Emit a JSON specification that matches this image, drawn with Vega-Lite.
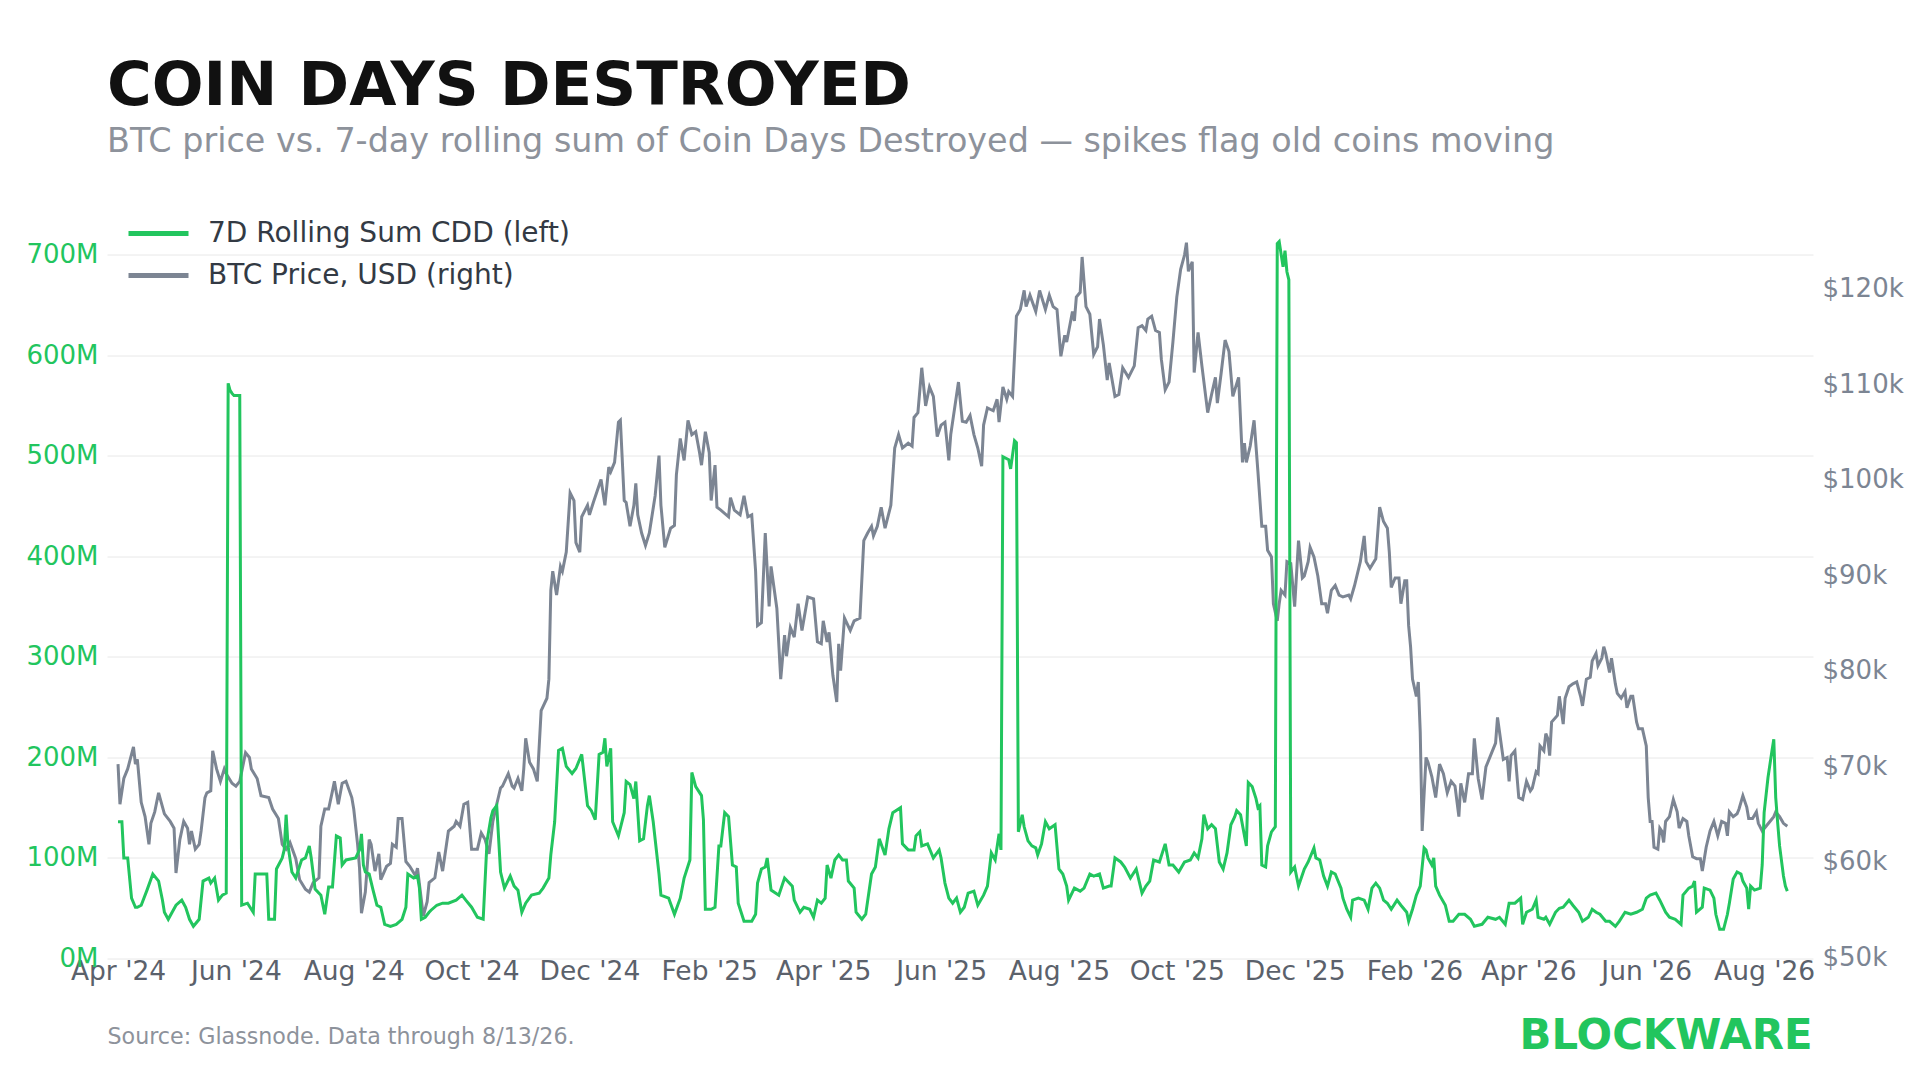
{
"$schema":"https://vega.github.io/schema/vega-lite/v6.json",
"width":1706,"height":734,
"autosize":{"type":"none"},
"padding":{"left":107,"top":224.5,"right":107,"bottom":121.5},
"background":"#ffffff",
"config":{"font":"DejaVu Sans","view":{"stroke":null}},
"title":{"text":"COIN DAYS DESTROYED","subtitle":"BTC price vs. 7-day rolling sum of Coin Days Destroyed — spikes flag old coins moving","anchor":"start","frame":"group","fontSize":61,"fontWeight":"bold","color":"#111111","subtitleFontSize":33.4,"subtitleColor":"#8d929b","subtitlePadding":8,"offset":42},
"datasets":{
"price":[
{"t":"2024-04-01","v":70.2},{"t":"2024-04-02","v":66.0},{"t":"2024-04-04","v":68.7},{"t":"2024-04-06","v":69.7},{"t":"2024-04-09","v":72.0},{"t":"2024-04-10","v":70.2},{"t":"2024-04-11","v":70.7},{"t":"2024-04-13","v":66.2},{"t":"2024-04-15","v":64.7},{"t":"2024-04-17","v":61.8},{"t":"2024-04-18","v":64.0},{"t":"2024-04-20","v":65.2},{"t":"2024-04-22","v":67.2},{"t":"2024-04-25","v":65.0},{"t":"2024-04-28","v":64.2},{"t":"2024-04-30","v":63.5},
{"t":"2024-05-01","v":58.8},{"t":"2024-05-03","v":62.3},{"t":"2024-05-05","v":64.2},{"t":"2024-05-07","v":63.5},{"t":"2024-05-08","v":61.8},{"t":"2024-05-09","v":63.2},{"t":"2024-05-11","v":61.3},{"t":"2024-05-13","v":61.8},{"t":"2024-05-14","v":63.2},{"t":"2024-05-16","v":66.7},{"t":"2024-05-17","v":67.2},{"t":"2024-05-19","v":67.4},{"t":"2024-05-20","v":71.6},{"t":"2024-05-22","v":69.7},{"t":"2024-05-24","v":68.4},{"t":"2024-05-26","v":69.7},{"t":"2024-05-27","v":69.2},{"t":"2024-05-30","v":68.2},
{"t":"2024-06-01","v":67.9},{"t":"2024-06-03","v":68.4},{"t":"2024-06-06","v":71.4},{"t":"2024-06-08","v":70.9},{"t":"2024-06-09","v":69.7},{"t":"2024-06-12","v":68.7},{"t":"2024-06-14","v":66.9},{"t":"2024-06-18","v":66.7},{"t":"2024-06-20","v":65.5},{"t":"2024-06-23","v":64.5},{"t":"2024-06-25","v":61.8},{"t":"2024-06-27","v":61.3},{"t":"2024-06-29","v":62.0},
{"t":"2024-07-02","v":60.3},{"t":"2024-07-04","v":58.1},{"t":"2024-07-07","v":57.1},{"t":"2024-07-09","v":56.8},{"t":"2024-07-11","v":57.8},{"t":"2024-07-14","v":58.3},{"t":"2024-07-15","v":63.7},{"t":"2024-07-17","v":65.5},{"t":"2024-07-19","v":65.5},{"t":"2024-07-21","v":67.4},{"t":"2024-07-22","v":68.4},{"t":"2024-07-24","v":66.0},{"t":"2024-07-26","v":68.2},{"t":"2024-07-28","v":68.4},{"t":"2024-07-31","v":66.7},
{"t":"2024-08-01","v":65.5},{"t":"2024-08-03","v":61.8},{"t":"2024-08-04","v":59.3},{"t":"2024-08-05","v":54.6},{"t":"2024-08-07","v":56.8},{"t":"2024-08-09","v":62.3},{"t":"2024-08-10","v":61.8},{"t":"2024-08-12","v":59.0},{"t":"2024-08-14","v":60.8},{"t":"2024-08-15","v":58.1},{"t":"2024-08-18","v":59.5},{"t":"2024-08-20","v":59.8},{"t":"2024-08-21","v":61.8},{"t":"2024-08-23","v":61.5},{"t":"2024-08-24","v":64.5},{"t":"2024-08-26","v":64.5},{"t":"2024-08-28","v":60.0},{"t":"2024-08-30","v":59.5},
{"t":"2024-09-02","v":58.5},{"t":"2024-09-03","v":59.3},{"t":"2024-09-06","v":54.3},{"t":"2024-09-08","v":55.8},{"t":"2024-09-09","v":57.8},{"t":"2024-09-12","v":58.3},{"t":"2024-09-14","v":61.0},{"t":"2024-09-16","v":59.0},{"t":"2024-09-19","v":63.2},{"t":"2024-09-22","v":63.7},{"t":"2024-09-23","v":64.2},{"t":"2024-09-25","v":63.7},{"t":"2024-09-27","v":66.0},{"t":"2024-09-29","v":66.2},
{"t":"2024-10-01","v":61.3},{"t":"2024-10-04","v":61.3},{"t":"2024-10-06","v":63.0},{"t":"2024-10-08","v":62.3},{"t":"2024-10-10","v":60.8},{"t":"2024-10-12","v":64.2},{"t":"2024-10-14","v":66.0},{"t":"2024-10-16","v":67.7},{"t":"2024-10-17","v":67.9},{"t":"2024-10-20","v":69.2},{"t":"2024-10-22","v":67.9},{"t":"2024-10-23","v":67.7},{"t":"2024-10-25","v":68.7},{"t":"2024-10-27","v":67.4},{"t":"2024-10-28","v":69.7},{"t":"2024-10-29","v":72.9},{"t":"2024-10-31","v":70.4},
{"t":"2024-11-02","v":69.7},{"t":"2024-11-04","v":68.4},{"t":"2024-11-06","v":75.8},{"t":"2024-11-09","v":77.1},{"t":"2024-11-10","v":79.1},{"t":"2024-11-11","v":88.4},{"t":"2024-11-12","v":90.4},{"t":"2024-11-14","v":87.9},{"t":"2024-11-16","v":90.9},{"t":"2024-11-17","v":90.4},{"t":"2024-11-19","v":92.4},{"t":"2024-11-21","v":98.6},{"t":"2024-11-23","v":97.8},{"t":"2024-11-24","v":93.4},{"t":"2024-11-26","v":92.4},{"t":"2024-11-27","v":96.1},{"t":"2024-11-30","v":97.3},
{"t":"2024-12-01","v":96.3},{"t":"2024-12-03","v":97.6},{"t":"2024-12-05","v":98.8},{"t":"2024-12-07","v":100.0},{"t":"2024-12-09","v":97.3},{"t":"2024-12-11","v":101.3},{"t":"2024-12-12","v":100.8},{"t":"2024-12-14","v":101.8},{"t":"2024-12-16","v":106.0},{"t":"2024-12-17","v":106.2},{"t":"2024-12-19","v":97.8},{"t":"2024-12-20","v":97.6},{"t":"2024-12-22","v":95.1},{"t":"2024-12-24","v":97.3},{"t":"2024-12-25","v":99.6},{"t":"2024-12-26","v":96.3},{"t":"2024-12-28","v":94.4},{"t":"2024-12-30","v":93.1},
{"t":"2025-01-01","v":94.4},{"t":"2025-01-04","v":98.3},{"t":"2025-01-06","v":102.5},{"t":"2025-01-07","v":97.3},{"t":"2025-01-09","v":92.9},{"t":"2025-01-12","v":94.9},{"t":"2025-01-14","v":95.2},{"t":"2025-01-15","v":100.5},{"t":"2025-01-17","v":104.3},{"t":"2025-01-19","v":102.0},{"t":"2025-01-21","v":106.2},{"t":"2025-01-23","v":104.7},{"t":"2025-01-25","v":105.0},{"t":"2025-01-27","v":102.8},{"t":"2025-01-28","v":101.5},{"t":"2025-01-30","v":105.0},
{"t":"2025-02-01","v":102.8},{"t":"2025-02-02","v":97.8},{"t":"2025-02-04","v":101.5},{"t":"2025-02-05","v":97.1},{"t":"2025-02-07","v":96.8},{"t":"2025-02-11","v":96.1},{"t":"2025-02-12","v":98.1},{"t":"2025-02-14","v":96.8},{"t":"2025-02-17","v":96.3},{"t":"2025-02-19","v":98.3},{"t":"2025-02-21","v":96.1},{"t":"2025-02-23","v":96.3},{"t":"2025-02-25","v":90.4},{"t":"2025-02-26","v":84.7},{"t":"2025-02-28","v":85.0},
{"t":"2025-03-02","v":94.4},{"t":"2025-03-04","v":86.7},{"t":"2025-03-05","v":90.9},{"t":"2025-03-08","v":86.5},{"t":"2025-03-10","v":79.1},{"t":"2025-03-12","v":83.7},{"t":"2025-03-13","v":81.5},{"t":"2025-03-15","v":84.5},{"t":"2025-03-17","v":83.5},{"t":"2025-03-19","v":87.0},{"t":"2025-03-21","v":84.2},{"t":"2025-03-24","v":87.7},{"t":"2025-03-27","v":87.5},{"t":"2025-03-29","v":83.0},{"t":"2025-03-31","v":82.8},
{"t":"2025-04-01","v":85.2},{"t":"2025-04-03","v":83.0},{"t":"2025-04-04","v":84.0},{"t":"2025-04-06","v":79.5},{"t":"2025-04-08","v":76.7},{"t":"2025-04-09","v":82.8},{"t":"2025-04-10","v":80.0},{"t":"2025-04-12","v":85.5},{"t":"2025-04-15","v":84.2},{"t":"2025-04-17","v":85.2},{"t":"2025-04-20","v":85.5},{"t":"2025-04-22","v":93.6},{"t":"2025-04-24","v":94.4},{"t":"2025-04-26","v":95.1},{"t":"2025-04-27","v":94.1},{"t":"2025-04-29","v":95.1},
{"t":"2025-05-01","v":97.1},{"t":"2025-05-03","v":94.9},{"t":"2025-05-06","v":97.3},{"t":"2025-05-08","v":103.3},{"t":"2025-05-10","v":104.7},{"t":"2025-05-12","v":103.3},{"t":"2025-05-15","v":103.8},{"t":"2025-05-17","v":103.5},{"t":"2025-05-18","v":106.5},{"t":"2025-05-20","v":107.0},{"t":"2025-05-22","v":111.7},{"t":"2025-05-24","v":107.7},{"t":"2025-05-26","v":109.7},{"t":"2025-05-28","v":108.7},{"t":"2025-05-30","v":104.5},
{"t":"2025-06-01","v":105.7},{"t":"2025-06-03","v":106.0},{"t":"2025-06-05","v":102.0},{"t":"2025-06-06","v":104.7},{"t":"2025-06-10","v":110.2},{"t":"2025-06-12","v":106.1},{"t":"2025-06-14","v":106.0},{"t":"2025-06-16","v":106.7},{"t":"2025-06-18","v":104.7},{"t":"2025-06-20","v":103.3},{"t":"2025-06-22","v":101.4},{"t":"2025-06-23","v":105.7},{"t":"2025-06-25","v":107.5},{"t":"2025-06-28","v":107.2},{"t":"2025-06-30","v":108.4},
{"t":"2025-07-01","v":106.0},{"t":"2025-07-03","v":109.7},{"t":"2025-07-05","v":108.4},{"t":"2025-07-06","v":109.2},{"t":"2025-07-08","v":108.7},{"t":"2025-07-10","v":117.1},{"t":"2025-07-12","v":117.8},{"t":"2025-07-14","v":119.8},{"t":"2025-07-15","v":118.1},{"t":"2025-07-17","v":119.3},{"t":"2025-07-20","v":117.6},{"t":"2025-07-22","v":119.8},{"t":"2025-07-25","v":117.8},{"t":"2025-07-27","v":119.3},{"t":"2025-07-29","v":118.1},{"t":"2025-07-31","v":117.8},
{"t":"2025-08-02","v":112.9},{"t":"2025-08-04","v":115.1},{"t":"2025-08-05","v":114.4},{"t":"2025-08-08","v":117.6},{"t":"2025-08-09","v":116.6},{"t":"2025-08-10","v":119.1},{"t":"2025-08-12","v":119.6},{"t":"2025-08-13","v":123.3},{"t":"2025-08-15","v":118.1},{"t":"2025-08-17","v":117.3},{"t":"2025-08-19","v":113.1},{"t":"2025-08-21","v":113.9},{"t":"2025-08-22","v":116.8},{"t":"2025-08-24","v":114.1},{"t":"2025-08-26","v":110.4},{"t":"2025-08-27","v":112.2},{"t":"2025-08-30","v":108.7},
{"t":"2025-09-01","v":108.9},{"t":"2025-09-03","v":111.7},{"t":"2025-09-06","v":110.7},{"t":"2025-09-09","v":111.9},{"t":"2025-09-11","v":115.9},{"t":"2025-09-13","v":116.1},{"t":"2025-09-15","v":115.6},{"t":"2025-09-16","v":116.8},{"t":"2025-09-18","v":117.1},{"t":"2025-09-20","v":115.6},{"t":"2025-09-22","v":115.4},{"t":"2025-09-23","v":112.6},{"t":"2025-09-25","v":109.4},{"t":"2025-09-27","v":110.2},{"t":"2025-09-29","v":114.4},
{"t":"2025-10-01","v":119.1},{"t":"2025-10-03","v":122.0},{"t":"2025-10-05","v":123.5},{"t":"2025-10-06","v":124.8},{"t":"2025-10-07","v":121.8},{"t":"2025-10-09","v":122.8},{"t":"2025-10-10","v":111.2},{"t":"2025-10-12","v":115.4},{"t":"2025-10-14","v":111.9},{"t":"2025-10-17","v":107.0},{"t":"2025-10-19","v":108.9},{"t":"2025-10-21","v":110.7},{"t":"2025-10-22","v":108.0},{"t":"2025-10-24","v":111.2},{"t":"2025-10-26","v":114.6},{"t":"2025-10-28","v":113.4},{"t":"2025-10-30","v":108.7},
{"t":"2025-11-02","v":110.7},{"t":"2025-11-04","v":101.8},{"t":"2025-11-05","v":103.8},{"t":"2025-11-06","v":101.8},{"t":"2025-11-08","v":103.5},{"t":"2025-11-10","v":106.2},{"t":"2025-11-12","v":100.8},{"t":"2025-11-14","v":95.1},{"t":"2025-11-16","v":95.1},{"t":"2025-11-17","v":92.6},{"t":"2025-11-19","v":91.9},{"t":"2025-11-20","v":87.0},{"t":"2025-11-22","v":85.2},{"t":"2025-11-23","v":87.0},{"t":"2025-11-24","v":88.4},{"t":"2025-11-26","v":87.9},{"t":"2025-11-27","v":91.4},{"t":"2025-11-29","v":91.2},
{"t":"2025-12-01","v":86.7},{"t":"2025-12-03","v":93.6},{"t":"2025-12-05","v":89.7},{"t":"2025-12-06","v":89.9},{"t":"2025-12-08","v":91.4},{"t":"2025-12-09","v":92.9},{"t":"2025-12-11","v":91.9},{"t":"2025-12-13","v":89.9},{"t":"2025-12-15","v":87.0},{"t":"2025-12-17","v":87.0},{"t":"2025-12-18","v":86.0},{"t":"2025-12-20","v":88.4},{"t":"2025-12-22","v":88.9},{"t":"2025-12-24","v":87.9},{"t":"2025-12-26","v":87.7},{"t":"2025-12-29","v":87.9},{"t":"2025-12-30","v":87.5},
{"t":"2026-01-01","v":88.9},{"t":"2026-01-04","v":91.4},{"t":"2026-01-06","v":94.1},{"t":"2026-01-07","v":91.4},{"t":"2026-01-09","v":90.7},{"t":"2026-01-12","v":91.7},{"t":"2026-01-14","v":97.1},{"t":"2026-01-16","v":95.6},{"t":"2026-01-18","v":94.9},{"t":"2026-01-19","v":92.4},{"t":"2026-01-20","v":88.7},{"t":"2026-01-22","v":89.7},{"t":"2026-01-24","v":89.7},{"t":"2026-01-25","v":87.0},{"t":"2026-01-27","v":89.4},{"t":"2026-01-28","v":89.4},{"t":"2026-01-29","v":84.7},{"t":"2026-01-30","v":82.5},{"t":"2026-01-31","v":79.1},
{"t":"2026-02-02","v":77.3},{"t":"2026-02-03","v":78.8},{"t":"2026-02-04","v":73.6},{"t":"2026-02-05","v":63.2},{"t":"2026-02-07","v":70.9},{"t":"2026-02-08","v":70.4},{"t":"2026-02-10","v":68.9},{"t":"2026-02-12","v":66.7},{"t":"2026-02-14","v":70.2},{"t":"2026-02-16","v":69.2},{"t":"2026-02-18","v":67.2},{"t":"2026-02-20","v":68.4},{"t":"2026-02-22","v":67.9},{"t":"2026-02-24","v":64.7},{"t":"2026-02-25","v":68.2},{"t":"2026-02-27","v":66.2},
{"t":"2026-03-01","v":69.2},{"t":"2026-03-03","v":69.2},{"t":"2026-03-04","v":72.9},{"t":"2026-03-06","v":68.7},{"t":"2026-03-08","v":66.5},{"t":"2026-03-10","v":69.9},{"t":"2026-03-13","v":71.4},{"t":"2026-03-15","v":72.4},{"t":"2026-03-16","v":75.1},{"t":"2026-03-19","v":70.7},{"t":"2026-03-21","v":70.9},{"t":"2026-03-22","v":68.4},{"t":"2026-03-23","v":71.1},{"t":"2026-03-25","v":71.6},{"t":"2026-03-27","v":66.7},{"t":"2026-03-29","v":66.5},{"t":"2026-03-31","v":68.4},
{"t":"2026-04-02","v":67.4},{"t":"2026-04-03","v":67.7},{"t":"2026-04-05","v":69.4},{"t":"2026-04-06","v":69.2},{"t":"2026-04-07","v":72.1},{"t":"2026-04-09","v":71.6},{"t":"2026-04-10","v":73.4},{"t":"2026-04-11","v":72.9},{"t":"2026-04-12","v":71.1},{"t":"2026-04-13","v":74.6},{"t":"2026-04-16","v":75.3},{"t":"2026-04-17","v":77.3},{"t":"2026-04-19","v":74.4},{"t":"2026-04-20","v":77.1},{"t":"2026-04-22","v":78.3},{"t":"2026-04-24","v":78.6},{"t":"2026-04-26","v":78.8},{"t":"2026-04-28","v":77.3},{"t":"2026-04-29","v":76.3},
{"t":"2026-05-01","v":79.1},{"t":"2026-05-03","v":79.3},{"t":"2026-05-04","v":81.0},{"t":"2026-05-06","v":81.8},{"t":"2026-05-07","v":80.5},{"t":"2026-05-09","v":81.3},{"t":"2026-05-10","v":82.5},{"t":"2026-05-11","v":81.8},{"t":"2026-05-13","v":79.8},{"t":"2026-05-14","v":81.3},{"t":"2026-05-16","v":78.6},{"t":"2026-05-17","v":77.6},{"t":"2026-05-19","v":77.1},{"t":"2026-05-21","v":77.8},{"t":"2026-05-22","v":76.1},{"t":"2026-05-24","v":77.3},{"t":"2026-05-25","v":77.3},{"t":"2026-05-27","v":74.6},{"t":"2026-05-28","v":73.9},{"t":"2026-05-30","v":73.9},
{"t":"2026-06-01","v":72.1},{"t":"2026-06-02","v":66.7},{"t":"2026-06-03","v":64.2},{"t":"2026-06-04","v":64.2},{"t":"2026-06-05","v":61.5},{"t":"2026-06-07","v":61.3},{"t":"2026-06-08","v":63.5},{"t":"2026-06-09","v":63.2},{"t":"2026-06-10","v":62.0},{"t":"2026-06-11","v":64.2},{"t":"2026-06-13","v":64.7},{"t":"2026-06-15","v":66.5},{"t":"2026-06-17","v":65.2},{"t":"2026-06-18","v":63.5},{"t":"2026-06-20","v":64.5},{"t":"2026-06-22","v":64.2},{"t":"2026-06-23","v":62.7},{"t":"2026-06-25","v":60.5},{"t":"2026-06-27","v":60.3},{"t":"2026-06-29","v":60.3},{"t":"2026-06-30","v":59.0},
{"t":"2026-07-02","v":61.5},{"t":"2026-07-04","v":63.2},{"t":"2026-07-06","v":64.2},{"t":"2026-07-08","v":62.7},{"t":"2026-07-10","v":64.2},{"t":"2026-07-12","v":64.0},{"t":"2026-07-13","v":62.7},{"t":"2026-07-14","v":65.2},{"t":"2026-07-16","v":64.7},{"t":"2026-07-18","v":65.0},{"t":"2026-07-19","v":65.5},{"t":"2026-07-21","v":66.9},{"t":"2026-07-23","v":65.7},{"t":"2026-07-24","v":64.5},{"t":"2026-07-26","v":64.5},{"t":"2026-07-28","v":65.2},{"t":"2026-07-29","v":64.0},{"t":"2026-07-31","v":63.2},
{"t":"2026-08-02","v":63.7},{"t":"2026-08-04","v":64.2},{"t":"2026-08-06","v":64.7},{"t":"2026-08-07","v":65.2},{"t":"2026-08-09","v":64.7},{"t":"2026-08-11","v":64.0},{"t":"2026-08-13","v":63.7}
],
"cdd":[
{"t":"2024-04-01","v":136},{"t":"2024-04-03","v":136},{"t":"2024-04-04","v":100},{"t":"2024-04-06","v":100},{"t":"2024-04-08","v":60},{"t":"2024-04-10","v":51},{"t":"2024-04-11","v":51},{"t":"2024-04-13","v":53},{"t":"2024-04-16","v":68},{"t":"2024-04-19","v":84},{"t":"2024-04-22","v":77},{"t":"2024-04-24","v":58},{"t":"2024-04-25","v":46},{"t":"2024-04-27","v":39},{"t":"2024-04-29","v":46},
{"t":"2024-05-01","v":53},{"t":"2024-05-04","v":58},{"t":"2024-05-06","v":51},{"t":"2024-05-08","v":39},{"t":"2024-05-10","v":32},{"t":"2024-05-13","v":39},{"t":"2024-05-15","v":77},{"t":"2024-05-18","v":80},{"t":"2024-05-19","v":75},{"t":"2024-05-21","v":80},{"t":"2024-05-23","v":58},{"t":"2024-05-25","v":63},{"t":"2024-05-27","v":65},{"t":"2024-05-28","v":572},{"t":"2024-05-29","v":565},{"t":"2024-05-30","v":562},{"t":"2024-05-31","v":560},
{"t":"2024-06-03","v":560},{"t":"2024-06-04","v":53},{"t":"2024-06-07","v":55},{"t":"2024-06-10","v":46},{"t":"2024-06-11","v":84},{"t":"2024-06-15","v":84},{"t":"2024-06-17","v":84},{"t":"2024-06-18","v":39},{"t":"2024-06-21","v":39},{"t":"2024-06-22","v":89},{"t":"2024-06-25","v":100},{"t":"2024-06-26","v":108},{"t":"2024-06-27","v":143},{"t":"2024-06-28","v":112},{"t":"2024-06-30","v":86},
{"t":"2024-07-02","v":80},{"t":"2024-07-05","v":98},{"t":"2024-07-07","v":100},{"t":"2024-07-09","v":112},{"t":"2024-07-10","v":100},{"t":"2024-07-12","v":69},{"t":"2024-07-15","v":63},{"t":"2024-07-17","v":44},{"t":"2024-07-19","v":71},{"t":"2024-07-21","v":71},{"t":"2024-07-23","v":122},{"t":"2024-07-25","v":120},{"t":"2024-07-26","v":93},{"t":"2024-07-28","v":98},
{"t":"2024-08-02","v":100},{"t":"2024-08-04","v":108},{"t":"2024-08-05","v":124},{"t":"2024-08-06","v":93},{"t":"2024-08-07","v":86},{"t":"2024-08-09","v":84},{"t":"2024-08-11","v":68},{"t":"2024-08-13","v":53},{"t":"2024-08-15","v":51},{"t":"2024-08-17","v":34},{"t":"2024-08-20","v":32},{"t":"2024-08-23","v":34},{"t":"2024-08-26","v":39},{"t":"2024-08-28","v":51},{"t":"2024-08-29","v":84},
{"t":"2024-09-01","v":80},{"t":"2024-09-03","v":82},{"t":"2024-09-04","v":70},{"t":"2024-09-05","v":39},{"t":"2024-09-07","v":41},{"t":"2024-09-09","v":46},{"t":"2024-09-10","v":48},{"t":"2024-09-13","v":53},{"t":"2024-09-16","v":55},{"t":"2024-09-19","v":55},{"t":"2024-09-23","v":58},{"t":"2024-09-26","v":63},{"t":"2024-09-28","v":58},
{"t":"2024-10-01","v":51},{"t":"2024-10-04","v":41},{"t":"2024-10-07","v":39},{"t":"2024-10-09","v":117},{"t":"2024-10-11","v":140},{"t":"2024-10-12","v":147},{"t":"2024-10-14","v":152},{"t":"2024-10-16","v":86},{"t":"2024-10-18","v":70},{"t":"2024-10-21","v":82},{"t":"2024-10-23","v":72},{"t":"2024-10-25","v":68},{"t":"2024-10-27","v":46},{"t":"2024-10-29","v":55},
{"t":"2024-11-01","v":63},{"t":"2024-11-05","v":65},{"t":"2024-11-07","v":70},{"t":"2024-11-10","v":80},{"t":"2024-11-11","v":103},{"t":"2024-11-13","v":136},{"t":"2024-11-15","v":207},{"t":"2024-11-17","v":209},{"t":"2024-11-19","v":191},{"t":"2024-11-22","v":184},{"t":"2024-11-24","v":189},{"t":"2024-11-27","v":203},{"t":"2024-11-30","v":152},
{"t":"2024-12-02","v":147},{"t":"2024-12-04","v":138},{"t":"2024-12-06","v":203},{"t":"2024-12-08","v":205},{"t":"2024-12-09","v":219},{"t":"2024-12-10","v":191},{"t":"2024-12-12","v":209},{"t":"2024-12-13","v":136},{"t":"2024-12-16","v":122},{"t":"2024-12-19","v":145},{"t":"2024-12-20","v":176},{"t":"2024-12-22","v":173},{"t":"2024-12-24","v":159},{"t":"2024-12-25","v":176},{"t":"2024-12-27","v":117},{"t":"2024-12-29","v":119},{"t":"2024-12-31","v":152},
{"t":"2025-01-01","v":162},{"t":"2025-01-03","v":136},{"t":"2025-01-06","v":84},{"t":"2025-01-07","v":63},{"t":"2025-01-11","v":60},{"t":"2025-01-14","v":44},{"t":"2025-01-17","v":60},{"t":"2025-01-19","v":80},{"t":"2025-01-22","v":98},{"t":"2025-01-23","v":185},{"t":"2025-01-25","v":171},{"t":"2025-01-28","v":162},{"t":"2025-01-29","v":138},{"t":"2025-01-30","v":49},
{"t":"2025-02-02","v":49},{"t":"2025-02-04","v":51},{"t":"2025-02-06","v":112},{"t":"2025-02-07","v":112},{"t":"2025-02-09","v":145},{"t":"2025-02-11","v":141},{"t":"2025-02-13","v":93},{"t":"2025-02-15","v":91},{"t":"2025-02-16","v":55},{"t":"2025-02-19","v":37},{"t":"2025-02-23","v":37},{"t":"2025-02-25","v":44},{"t":"2025-02-26","v":75},{"t":"2025-02-28","v":89},
{"t":"2025-03-02","v":91},{"t":"2025-03-03","v":100},{"t":"2025-03-05","v":68},{"t":"2025-03-09","v":63},{"t":"2025-03-12","v":80},{"t":"2025-03-16","v":72},{"t":"2025-03-17","v":58},{"t":"2025-03-20","v":46},{"t":"2025-03-22","v":51},{"t":"2025-03-25","v":49},{"t":"2025-03-27","v":41},{"t":"2025-03-29","v":58},{"t":"2025-03-31","v":55},
{"t":"2025-04-02","v":60},{"t":"2025-04-03","v":93},{"t":"2025-04-05","v":80},{"t":"2025-04-07","v":98},{"t":"2025-04-09","v":103},{"t":"2025-04-11","v":98},{"t":"2025-04-13","v":98},{"t":"2025-04-14","v":77},{"t":"2025-04-17","v":70},{"t":"2025-04-18","v":46},{"t":"2025-04-21","v":39},{"t":"2025-04-23","v":44},{"t":"2025-04-26","v":84},{"t":"2025-04-28","v":91},{"t":"2025-04-30","v":119},
{"t":"2025-05-03","v":103},{"t":"2025-05-05","v":129},{"t":"2025-05-07","v":145},{"t":"2025-05-11","v":150},{"t":"2025-05-12","v":114},{"t":"2025-05-15","v":108},{"t":"2025-05-18","v":108},{"t":"2025-05-19","v":122},{"t":"2025-05-21","v":126},{"t":"2025-05-22","v":112},{"t":"2025-05-25","v":114},{"t":"2025-05-28","v":100},{"t":"2025-05-31","v":108},
{"t":"2025-06-01","v":100},{"t":"2025-06-03","v":75},{"t":"2025-06-05","v":60},{"t":"2025-06-07","v":55},{"t":"2025-06-09","v":60},{"t":"2025-06-11","v":46},{"t":"2025-06-13","v":51},{"t":"2025-06-15","v":65},{"t":"2025-06-18","v":67},{"t":"2025-06-20","v":53},{"t":"2025-06-23","v":63},{"t":"2025-06-25","v":72},{"t":"2025-06-27","v":105},{"t":"2025-06-29","v":98},
{"t":"2025-07-01","v":124},{"t":"2025-07-02","v":108},{"t":"2025-07-03","v":499},{"t":"2025-07-06","v":496},{"t":"2025-07-07","v":487},{"t":"2025-07-09","v":515},{"t":"2025-07-10","v":513},{"t":"2025-07-11","v":126},{"t":"2025-07-13","v":143},{"t":"2025-07-14","v":131},{"t":"2025-07-16","v":117},{"t":"2025-07-18","v":112},{"t":"2025-07-20","v":110},{"t":"2025-07-21","v":103},{"t":"2025-07-23","v":114},{"t":"2025-07-25","v":136},{"t":"2025-07-27","v":129},{"t":"2025-07-30","v":133},
{"t":"2025-08-01","v":89},{"t":"2025-08-03","v":84},{"t":"2025-08-05","v":72},{"t":"2025-08-06","v":58},{"t":"2025-08-09","v":70},{"t":"2025-08-12","v":67},{"t":"2025-08-14","v":70},{"t":"2025-08-17","v":84},{"t":"2025-08-19","v":82},{"t":"2025-08-22","v":84},{"t":"2025-08-24","v":70},{"t":"2025-08-27","v":72},{"t":"2025-08-28","v":72},{"t":"2025-08-30","v":100},
{"t":"2025-09-02","v":96},{"t":"2025-09-04","v":91},{"t":"2025-09-07","v":80},{"t":"2025-09-10","v":89},{"t":"2025-09-13","v":65},{"t":"2025-09-15","v":72},{"t":"2025-09-17","v":77},{"t":"2025-09-19","v":98},{"t":"2025-09-22","v":96},{"t":"2025-09-25","v":114},{"t":"2025-09-27","v":93},{"t":"2025-09-29","v":93},
{"t":"2025-10-02","v":86},{"t":"2025-10-05","v":96},{"t":"2025-10-08","v":98},{"t":"2025-10-10","v":105},{"t":"2025-10-12","v":100},{"t":"2025-10-14","v":119},{"t":"2025-10-15","v":143},{"t":"2025-10-17","v":129},{"t":"2025-10-19","v":133},{"t":"2025-10-21","v":129},{"t":"2025-10-23","v":96},{"t":"2025-10-25","v":89},{"t":"2025-10-27","v":105},{"t":"2025-10-29","v":133},{"t":"2025-10-31","v":141},
{"t":"2025-11-01","v":147},{"t":"2025-11-03","v":143},{"t":"2025-11-06","v":112},{"t":"2025-11-07","v":175},{"t":"2025-11-09","v":171},{"t":"2025-11-11","v":159},{"t":"2025-11-12","v":150},{"t":"2025-11-13","v":152},{"t":"2025-11-14","v":93},{"t":"2025-11-16","v":91},{"t":"2025-11-17","v":112},{"t":"2025-11-19","v":126},{"t":"2025-11-21","v":131},{"t":"2025-11-22","v":711},{"t":"2025-11-23","v":713},{"t":"2025-11-25","v":688},{"t":"2025-11-26","v":704},{"t":"2025-11-27","v":683},{"t":"2025-11-28","v":675},{"t":"2025-11-29","v":86},
{"t":"2025-12-01","v":91},{"t":"2025-12-03","v":72},{"t":"2025-12-06","v":89},{"t":"2025-12-08","v":96},{"t":"2025-12-11","v":110},{"t":"2025-12-12","v":100},{"t":"2025-12-14","v":98},{"t":"2025-12-16","v":82},{"t":"2025-12-18","v":72},{"t":"2025-12-20","v":86},{"t":"2025-12-22","v":84},{"t":"2025-12-25","v":70},{"t":"2025-12-26","v":60},{"t":"2025-12-28","v":49},{"t":"2025-12-30","v":41},{"t":"2025-12-31","v":58},
{"t":"2026-01-03","v":60},{"t":"2026-01-06","v":58},{"t":"2026-01-08","v":49},{"t":"2026-01-10","v":70},{"t":"2026-01-12","v":75},{"t":"2026-01-14","v":70},{"t":"2026-01-16","v":58},{"t":"2026-01-18","v":55},{"t":"2026-01-20","v":49},{"t":"2026-01-23","v":58},{"t":"2026-01-25","v":53},{"t":"2026-01-28","v":46},{"t":"2026-01-29","v":37},{"t":"2026-01-31","v":49},
{"t":"2026-02-02","v":63},{"t":"2026-02-04","v":72},{"t":"2026-02-06","v":110},{"t":"2026-02-07","v":108},{"t":"2026-02-08","v":100},{"t":"2026-02-10","v":93},{"t":"2026-02-11","v":100},{"t":"2026-02-12","v":72},{"t":"2026-02-14","v":63},{"t":"2026-02-17","v":53},{"t":"2026-02-19","v":37},{"t":"2026-02-21","v":37},{"t":"2026-02-24","v":44},{"t":"2026-02-27","v":44},
{"t":"2026-03-02","v":39},{"t":"2026-03-04","v":32},{"t":"2026-03-08","v":34},{"t":"2026-03-11","v":41},{"t":"2026-03-15","v":39},{"t":"2026-03-17","v":41},{"t":"2026-03-20","v":34},{"t":"2026-03-22","v":55},{"t":"2026-03-25","v":55},{"t":"2026-03-28","v":60},{"t":"2026-03-29","v":34},{"t":"2026-03-31","v":46},
{"t":"2026-04-03","v":49},{"t":"2026-04-05","v":58},{"t":"2026-04-06","v":41},{"t":"2026-04-09","v":39},{"t":"2026-04-10","v":41},{"t":"2026-04-12","v":34},{"t":"2026-04-15","v":46},{"t":"2026-04-17","v":50},{"t":"2026-04-19","v":51},{"t":"2026-04-22","v":58},{"t":"2026-04-24","v":53},{"t":"2026-04-27","v":46},{"t":"2026-04-29","v":37},
{"t":"2026-05-02","v":41},{"t":"2026-05-04","v":49},{"t":"2026-05-06","v":46},{"t":"2026-05-08","v":44},{"t":"2026-05-11","v":37},{"t":"2026-05-13","v":37},{"t":"2026-05-16","v":32},{"t":"2026-05-18","v":37},{"t":"2026-05-21","v":46},{"t":"2026-05-24","v":44},{"t":"2026-05-27","v":46},{"t":"2026-05-30","v":49},
{"t":"2026-06-01","v":60},{"t":"2026-06-03","v":63},{"t":"2026-06-06","v":65},{"t":"2026-06-08","v":58},{"t":"2026-06-11","v":46},{"t":"2026-06-13","v":41},{"t":"2026-06-16","v":39},{"t":"2026-06-19","v":34},{"t":"2026-06-20","v":63},{"t":"2026-06-23","v":70},{"t":"2026-06-25","v":72},{"t":"2026-06-26","v":77},{"t":"2026-06-27","v":46},{"t":"2026-06-30","v":51},
{"t":"2026-07-01","v":70},{"t":"2026-07-04","v":68},{"t":"2026-07-06","v":60},{"t":"2026-07-07","v":44},{"t":"2026-07-09","v":29},{"t":"2026-07-11","v":29},{"t":"2026-07-13","v":44},{"t":"2026-07-14","v":55},{"t":"2026-07-16","v":79},{"t":"2026-07-18","v":86},{"t":"2026-07-20","v":84},{"t":"2026-07-21","v":77},{"t":"2026-07-23","v":70},{"t":"2026-07-24","v":49},{"t":"2026-07-25","v":72},{"t":"2026-07-27","v":68},{"t":"2026-07-30","v":70},{"t":"2026-07-31","v":93},
{"t":"2026-08-01","v":145},{"t":"2026-08-03","v":180},{"t":"2026-08-05","v":206},{"t":"2026-08-06","v":218},{"t":"2026-08-07","v":160},{"t":"2026-08-08","v":135},{"t":"2026-08-09","v":112},{"t":"2026-08-11","v":82},{"t":"2026-08-12","v":72},{"t":"2026-08-13","v":67}
]
},
"encoding":{
"x":{"field":"t","type":"temporal",
"scale":{"type":"utc","domain":[{"year":2024,"month":"mar","date":26,"hours":7,"utc":true},{"year":2026,"month":"aug","date":26,"hours":7,"utc":true}]},
"axis":{"values":[{"year":2024,"month":"apr","date":1,"utc":true},{"year":2024,"month":"jun","date":1,"utc":true},{"year":2024,"month":"aug","date":1,"utc":true},{"year":2024,"month":"oct","date":1,"utc":true},{"year":2024,"month":"dec","date":1,"utc":true},{"year":2025,"month":"feb","date":1,"utc":true},{"year":2025,"month":"apr","date":1,"utc":true},{"year":2025,"month":"jun","date":1,"utc":true},{"year":2025,"month":"aug","date":1,"utc":true},{"year":2025,"month":"oct","date":1,"utc":true},{"year":2025,"month":"dec","date":1,"utc":true},{"year":2026,"month":"feb","date":1,"utc":true},{"year":2026,"month":"apr","date":1,"utc":true},{"year":2026,"month":"jun","date":1,"utc":true},{"year":2026,"month":"aug","date":1,"utc":true}],
"format":"%b '%y","labelFontSize":26.5,"labelColor":"#5b616b","labelPadding":0,"ticks":false,"tickSize":0,"domain":false,"grid":false,"labelFlush":false,"labelOverlap":false,
"title":"Source: Glassnode. Data through 8/13/26.","titleFontSize":22.2,"titleFontWeight":"normal","titleColor":"#8d929b","titleAnchor":"start","titleAlign":"left","titleX":0,"titleY":77.5,"titleBaseline":"middle"}}
},
"layer":[
{"data":{"name":"price"},
"mark":{"type":"line","strokeWidth":3,"clip":true},
"encoding":{
"y":{"field":"v","type":"quantitative","scale":{"domain":[49.85,126.7],"nice":false,"zero":false},
"axis":{"orient":"right","values":[50,60,70,80,90,100,110,120],"labelExpr":"'$' + datum.value + 'k'","labelFontSize":26,"labelColor":"#7c8593","labelPadding":9,"ticks":false,"tickSize":0,"domain":false,"grid":false,
"title":"BLOCKWARE","titleAngle":0,"titleX":-1,"titleY":810.5,"titleAlign":"right","titleBaseline":"middle","titleFontSize":41.8,"titleFontWeight":"bold","titleColor":"#22c55e"}},
"color":{"datum":"BTC Price, USD (right)","type":"nominal",
"scale":{"domain":["BTC Price, USD (right)"],"range":["#7c8593"]},
"legend":{"orient":"none","legendX":19,"legendY":18.5,"title":null,"symbolType":"stroke","symbolSize":3600,"symbolStrokeWidth":5,"labelFontSize":28,"labelColor":"#333a44","labelOffset":17,"labelLimit":0,"padding":0}}
}},
{"data":{"name":"cdd"},
"mark":{"type":"line","strokeWidth":3,"clip":true},
"encoding":{
"y":{"field":"v","type":"quantitative","scale":{"domain":[0,730],"nice":false},
"axis":{"orient":"left","values":[0,100,200,300,400,500,600,700],"labelExpr":"datum.value + 'M'","labelFontSize":26,"labelColor":"#22c55e","labelPadding":9,"ticks":false,"tickSize":0,"domain":false,"grid":true,"gridColor":"#e8e8e8","gridWidth":1,"title":null}},
"color":{"datum":"7D Rolling Sum CDD (left)","type":"nominal",
"scale":{"domain":["7D Rolling Sum CDD (left)"],"range":["#22c55e"]},
"legend":{"orient":"none","legendX":19,"legendY":-23.5,"title":null,"symbolType":"stroke","symbolSize":3600,"symbolStrokeWidth":5,"labelFontSize":28,"labelColor":"#333a44","labelOffset":17,"labelLimit":0,"padding":0}}
}}
],
"resolve":{"scale":{"y":"independent","color":"independent"}}
}
